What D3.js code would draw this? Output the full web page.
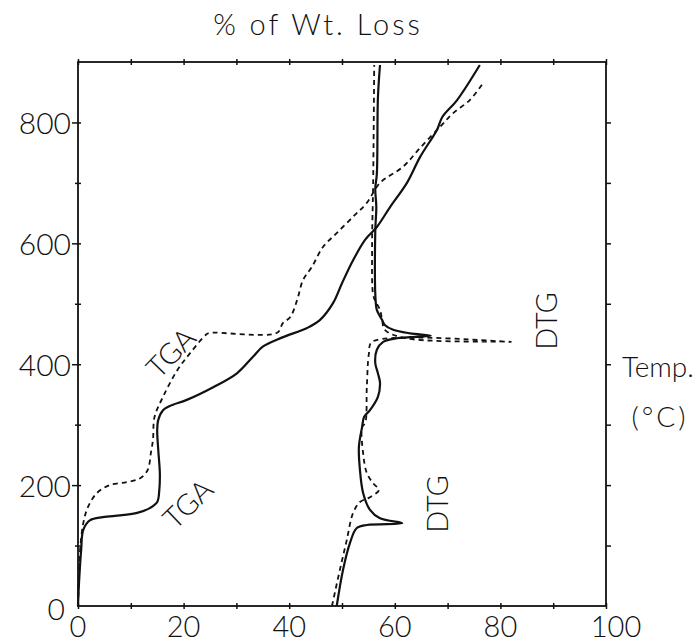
<!DOCTYPE html>
<html>
<head>
<meta charset="utf-8">
<script src="https://cdn.jsdelivr.net/npm/d3@7/dist/d3.min.js"></script>
<style>
  html, body { margin: 0; padding: 0; background: #fff; }
  svg text { font-family: "Lato", "DejaVu Sans", sans-serif; font-weight: 300; fill: #111; }
</style>
</head>
<body>
<svg id="chart" width="700" height="643"></svg>
<script>
// ---- data: [% of Wt. Loss, Temp (°C)] ----
const tgaSolid = [[0,0],[0.2,40],[0.6,93],[1,126],[2.3,142],[4.7,147],[8,150],[11.2,154],[13.6,162],[15,172],[15.4,192],[15.5,220],[15.2,258],[15,291],[15.2,308],[16.1,324],[17.4,331],[20.6,341],[25.6,362],[30.1,385],[33.1,412],[35,429],[38.6,444],[43.4,460],[45.8,473],[48.3,501],[50,534],[52.1,572],[54.4,606],[56.6,627],[59.1,660],[62.3,700],[64.8,743],[68,788],[69,809],[71.8,837],[76.1,895]];
const tgaDashed = [[0,0],[0.2,55],[0.4,93],[1,137],[1.9,164],[3.6,187],[6,200],[9.2,205],[11.7,211],[13.2,225],[13.8,253],[14.2,275],[14.5,313],[16.1,346],[18.8,390],[21.2,418],[24.4,450],[25,452],[37.7,452],[38.8,468],[40.2,478],[41.5,506],[42.6,539],[44.3,561],[46.4,594],[49,617],[52.1,644],[54.7,667],[57.2,700],[61.6,727],[64.8,758],[68.6,793],[71,815],[74.2,837],[76.7,865]];
const dtgSolid = [[49,0],[50.2,60],[51.5,104],[52.8,129],[54.7,134],[61.4,137],[57.2,145],[55.3,159],[54,187],[53.4,225],[53.2,263],[53.8,296],[54.2,313],[55.3,324],[56.8,346],[57.2,369],[56.8,385],[56.3,402],[56.6,424],[57.8,437],[60.4,443],[66.8,447],[62.9,451],[59.7,457],[58.1,465],[57.6,473],[56.6,490],[56.4,501],[56.3,620],[56.5,660],[56.3,690],[56.6,715],[56.8,840],[57.2,895]];
const dtgDashed = [[48.1,0],[49.6,60],[50.9,109],[52.1,154],[53.4,172],[55.3,180],[57,192],[55.9,203],[54.7,220],[54,253],[53.8,296],[54.4,303],[54.7,362],[55.1,418],[55.7,437],[82,437],[62,443],[58.1,457],[57.6,473],[57.2,490],[56.4,503],[55.9,515],[55.7,594],[55.9,700],[56.1,895]];

const xTicks = [0,10,20,30,40,50,60,70,80,90,100];
const xLabels = [0,20,40,60,80,100];
const yTicks = [100,200,300,400,500,600,700,800];
const yLabels = [0,200,400,600,800];

const svg = d3.select("#chart");
const x = d3.scaleLinear().domain([0,100]).range([78,606]);
const y = d3.scaleLinear().domain([0,900]).range([606,62]);

// frame
svg.append("rect")
  .attr("x", x(0)).attr("y", y(900))
  .attr("width", x(100)-x(0)).attr("height", y(0)-y(900))
  .attr("fill","none").attr("stroke","#111").attr("stroke-width",1.8);

// axes (ticks only, via d3 axis generators)
const tickStyle = g => { g.select(".domain").remove(); g.selectAll("line").attr("stroke","#111").attr("stroke-width",1.5); };

svg.append("g").attr("transform",`translate(0,${y(0)-3})`)
  .call(d3.axisBottom(x).tickValues(xTicks).tickSize(6).tickFormat(""))
  .call(tickStyle);
svg.append("g").attr("transform",`translate(0,${y(900)-3})`)
  .call(d3.axisBottom(x).tickValues(xTicks).tickSize(6).tickFormat(""))
  .call(tickStyle);
svg.append("g").attr("transform",`translate(${x(0)+3},0)`)
  .call(d3.axisLeft(y).tickValues(yTicks).tickSize(0).tickFormat(""))
  .call(tickStyle)
  .selectAll(".tick line").attr("x2", d => (d % 200 === 0) ? -9 : -6);
svg.append("g").attr("transform",`translate(${x(100)},0)`)
  .call(d3.axisRight(y).tickValues(yTicks).tickSize(5).tickFormat(""))
  .call(tickStyle);

// tick labels
svg.append("g").selectAll("text").data(xLabels).join("text")
  .attr("x", d => x(d) + (d===100 ? 10 : 0)).attr("y", 637)
  .attr("text-anchor","middle").attr("font-size",29)
  .text(d => d);
svg.append("g").selectAll("text").data(yLabels).join("text")
  .attr("x", d => d===0 ? 65 : 71).attr("y", d => y(d) + (d===0 ? 2 : 0))
  .attr("text-anchor","end").attr("dominant-baseline","central").attr("font-size",30)
  .text(d => d);

// curves
const line = d3.line().x(d => x(d[0])).y(d => y(d[1])).curve(d3.curveCatmullRom.alpha(0.5));
const plot = svg.append("g");
plot.append("path").attr("d", line(tgaSolid)).attr("fill","none").attr("stroke","#111").attr("stroke-width",2.2);
plot.append("path").attr("d", line(tgaDashed)).attr("fill","none").attr("stroke","#111").attr("stroke-width",1.8).attr("stroke-dasharray","5,4");
plot.append("path").attr("d", line(dtgSolid)).attr("fill","none").attr("stroke","#111").attr("stroke-width",2.2);
plot.append("path").attr("d", line(dtgDashed)).attr("fill","none").attr("stroke","#111").attr("stroke-width",1.8).attr("stroke-dasharray","5,4");

// labels
svg.append("text").attr("x",318).attr("y",35).attr("text-anchor","middle")
  .attr("font-size",29).attr("letter-spacing",3).text("% of  Wt. Loss");
svg.append("text").attr("x",622).attr("y",377).attr("font-size",28).text("Temp.");
svg.append("text").attr("x",660).attr("y",416).attr("text-anchor","middle").attr("dominant-baseline","central")
  .attr("font-size",28).attr("letter-spacing",3).text("(°C)");

const rot = (cx, cy, a, t) => svg.append("text")
  .attr("transform",`translate(${cx},${cy}) rotate(${a})`)
  .attr("text-anchor","middle").attr("dominant-baseline","central")
  .attr("font-size",29).text(t);
rot(170,352,-46,"TGA");
rot(187,503,-44,"TGA");
rot(545,321,-90,"DTG");
rot(436,504,-90,"DTG");
</script>
</body>
</html>
